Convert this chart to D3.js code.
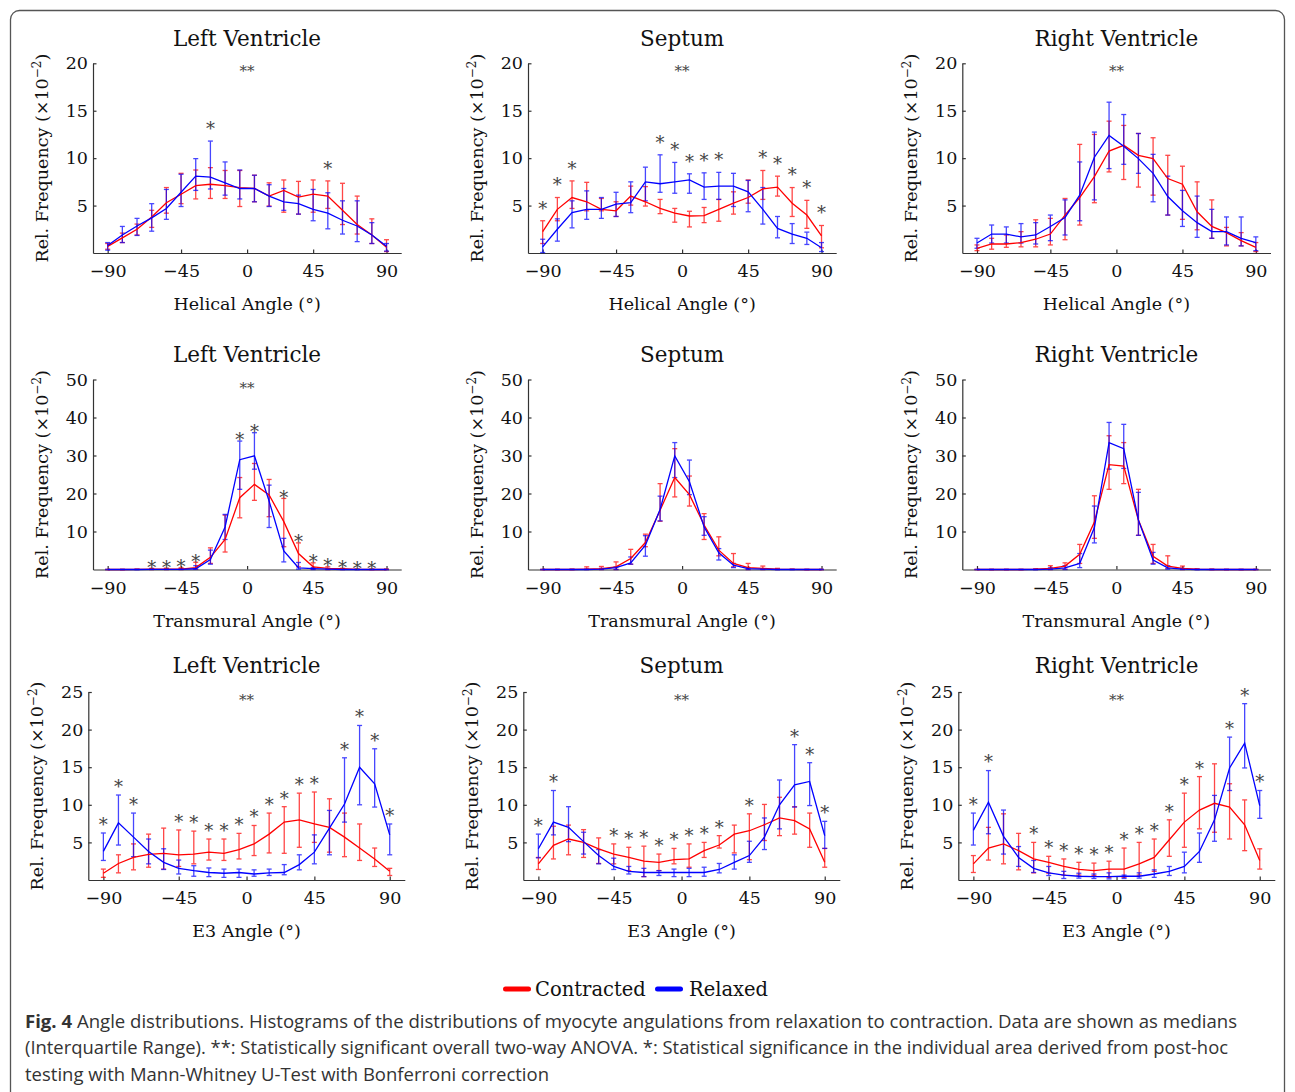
<!DOCTYPE html>
<html><head><meta charset="utf-8">
<script src="https://cdn.jsdelivr.net/npm/d3@7"></script>
<style>body{margin:0;background:#fff} svg{display:block}</style>
</head><body><svg id="c" width="1295" height="1092"></svg>
<script>
// ---------- data ----------
const binIndex = d3.range(1, 21);              // 20 angle bins
const angleTickPos = [1, 6, 10.5, 15, 20];
const angleTickLabels = ["\u221290", "\u221245", "0", "45", "90"];
const yTicksHelical = [5, 10, 15, 20];
const yTicksTrans = [10, 20, 30, 40, 50];
const yTicksE3 = [5, 10, 15, 20, 25];
const rowTitles = ["Left Ventricle", "Septum", "Right Ventricle"];
const xLabels = ["Helical Angle (\u00b0)", "Transmural Angle (\u00b0)", "E3 Angle (\u00b0)"];
const seriesNames = ["Contracted", "Relaxed"];

// Helical - Left Ventricle
const lvHelConMed = [0.7,1.6,2.5,3.8,5.3,6.2,7.1,7.25,7.1,6.9,6.8,6.0,6.6,5.9,6.2,6.0,4.5,3.0,1.9,0.6];
const lvHelConLo  = [0.4,1.1,1.9,2.7,4.2,5.2,5.7,5.75,5.75,4.9,5.4,4.95,4.3,4.1,4.3,4.7,3.0,2.0,1.0,0.15];
const lvHelConHi  = [1.0,2.1,3.05,4.5,6.9,8.4,8.75,9.0,8.7,8.7,8.2,7.4,7.7,7.55,7.7,7.6,7.35,6.0,3.6,1.4];
const lvHelRelMed = [0.8,1.9,2.85,3.7,4.7,6.4,8.1,8.0,7.4,6.8,6.8,6.0,5.4,5.2,4.6,4.2,3.45,2.85,1.9,0.7];
const lvHelRelLo  = [0.3,1.1,1.85,2.3,3.55,4.9,6.6,6.75,6.1,5.7,5.4,4.9,4.5,4.1,3.4,2.55,2.0,1.2,1.0,0.2];
const lvHelRelHi  = [1.1,2.8,3.65,5.2,6.7,8.3,9.95,11.8,9.6,8.75,8.2,7.2,6.8,6.1,6.7,6.35,5.5,5.5,3.2,1.0];
const lvHelSig = [8, 16];
// Helical - Septum
const sepHelConMed = [2.25,4.6,5.85,5.4,4.6,4.45,6.0,5.4,4.7,4.2,3.9,3.95,4.6,5.25,5.85,6.75,6.95,5.25,4.0,1.8];
const sepHelConLo  = [1.0,3.4,4.7,4.45,4.45,3.85,5.05,4.95,4.15,3.25,2.75,3.2,3.35,4.1,5.25,5.65,6.0,3.85,2.6,0.55];
const sepHelConHi  = [3.4,5.85,7.6,7.45,5.75,5.4,7.05,7.0,5.65,4.7,4.4,4.8,5.65,6.45,7.7,8.7,8.1,6.9,5.55,2.9];
const sepHelRelMed = [0.65,2.5,4.25,4.6,4.6,5.15,5.3,7.5,7.3,7.5,7.7,6.95,7.05,7.05,6.45,4.6,2.6,2.0,1.55,0.55];
const sepHelRelLo  = [0.05,1.25,2.65,3.55,3.65,3.85,4.25,5.5,6.4,6.3,6.3,5.65,5.65,4.9,4.35,3.05,1.6,1.0,0.9,0.15];
const sepHelRelHi  = [1.45,3.6,5.5,6.55,5.85,6.4,7.5,9.05,10.35,9.55,8.35,8.45,8.5,8.4,7.65,6.9,3.85,3.1,2.2,1.1];
const sepHelSig = [1,2,3,9,10,11,12,13,16,17,18,19,20];
// Helical - Right Ventricle
const rvHelConMed = [0.5,0.95,0.95,1.1,1.45,2.0,4.0,5.85,8.05,10.75,11.35,10.3,9.95,7.85,7.25,4.35,2.8,2.15,1.3,0.6];
const rvHelConLo  = [0.25,0.4,0.6,0.65,0.65,0.85,1.4,2.95,5.3,8.55,7.75,6.95,6.1,4.0,3.55,2.45,1.55,0.75,0.75,0.15];
const rvHelConHi  = [0.85,1.55,1.9,2.25,3.5,3.65,5.75,11.45,12.5,13.9,13.45,12.6,12.15,10.3,9.15,7.5,5.6,2.7,2.15,1.1];
const rvHelRelMed = [1.05,2.0,2.0,1.7,1.9,2.8,3.75,6.1,10.1,12.4,11.25,9.95,8.4,5.95,4.45,3.2,2.25,2.25,1.55,1.1];
const rvHelRelLo  = [0.5,1.05,1.05,1.05,0.95,1.3,1.9,3.4,5.6,8.9,9.35,8.4,5.4,4.0,2.8,1.65,1.55,0.85,0.75,0.25];
const rvHelRelHi  = [1.55,2.95,2.75,3.1,3.2,4.0,5.6,9.6,12.75,15.9,14.6,12.6,10.4,8.1,6.6,6.0,4.6,3.8,3.8,1.7];
const rvHelSig = [];
// Transmural - Left Ventricle
const lvTraConMed = [0,0,0.05,0.1,0.1,0.1,0.5,3.2,7.9,18.9,22.4,19.6,12.6,4.2,0.7,0.3,0.2,0.05,0,0];
const lvTraConLo  = [0,0,0,0,0,0,0.1,1.6,4.6,13.6,18.2,13.9,6.0,0.7,0.1,0,0,0,0,0];
const lvTraConHi  = [0,0,0.1,0.3,0.35,0.45,1.9,5.7,14.3,24.2,27.9,23.7,18.7,7.0,1.75,0.7,0.3,0.1,0.1,0.1];
const lvTraRelMed = [0,0,0,0.05,0.05,0.05,0.2,2.6,11.2,28.9,29.9,18.0,4.9,0.45,0.25,0.1,0,0,0,0];
const lvTraRelLo  = [0,0,0,0,0,0,0.1,1.4,7.9,21.1,26.4,11.05,2.0,0.1,0,0,0,0,0,0];
const lvTraRelHi  = [0,0,0,0.1,0.1,0.2,1.0,5.1,14.5,33.8,36.0,22.2,8.2,1.85,0.5,0.25,0.1,0,0,0];
const lvTraSig = [4,5,6,7,10,11,13,14,15,16,17,18,19];
// Transmural - Septum
const sepTraConMed = [0,0,0,0.1,0.2,0.7,2.9,7.1,15.6,24.2,19.7,11.7,5.1,1.6,0.5,0.3,0.1,0.05,0,0];
const sepTraConLo  = [0,0,0,0,0,0,1.4,6.0,12.7,19.1,16.7,7.9,3.6,0.7,0,0,0,0,0,0];
const sepTraConHi  = [0,0,0.1,0.7,0.8,2.0,5.3,9.3,22.6,31.8,24.6,14.7,8.6,4.2,1.6,0.9,0.3,0.1,0,0];
const sepTraRelMed = [0,0,0,0,0.1,0.5,1.75,6.4,15.8,29.9,23.1,11.2,4.4,1.15,0.25,0.1,0,0,0,0];
const sepTraRelLo  = [0,0,0,0,0,0,1.4,3.5,12.8,24.2,19.7,9.0,2.5,0.5,0,0,0,0,0,0];
const sepTraRelHi  = [0,0,0,0.1,0.3,0.7,3.3,8.9,19.3,33.4,28.8,13.9,5.5,1.6,0.45,0.2,0,0,0,0];
const sepTraSig = [];
// Transmural - Right Ventricle
const rvTraConMed = [0,0,0,0,0.1,0.3,0.9,4.0,12.5,27.6,27.2,13.0,3.5,0.9,0.3,0.1,0,0,0,0];
const rvTraConLo  = [0,0,0,0,0,0,0.1,1.6,8.2,21.1,22.6,9.0,1.6,0.3,0,0,0,0,0,0];
const rvTraConHi  = [0,0,0,0,0.2,1.0,1.75,6.6,19.4,35.2,33.4,21.1,6.6,3.6,0.9,0.2,0.1,0,0,0];
const rvTraRelMed = [0,0,0,0,0,0.1,0.45,1.6,11.05,33.4,31.8,13.0,2.5,0.45,0.1,0,0,0,0,0];
const rvTraRelLo  = [0,0,0,0,0,0,0,0.5,7.0,26.4,26.6,9.0,1.4,0.1,0,0,0,0,0,0];
const rvTraRelHi  = [0,0,0,0,0,0.45,1.0,4.2,16.7,38.7,38.2,20.3,4.5,1.0,0.3,0,0,0,0,0];
const rvTraSig = [];
// E3 - Left Ventricle
const lvE3ConMed = [0.9,2.2,3.0,3.4,3.55,3.35,3.45,3.7,3.55,4.05,4.8,6.1,7.7,8.0,7.45,7.0,5.7,4.25,2.8,1.15];
const lvE3ConLo  = [0.35,0.95,1.35,1.7,1.45,1.8,2.15,2.65,2.6,2.8,3.25,3.6,3.55,4.35,5.0,3.7,3.1,2.6,1.8,0.6];
const lvE3ConHi  = [1.45,3.35,4.8,6.1,6.9,6.65,6.5,5.45,5.45,6.2,7.25,8.9,9.75,11.55,11.7,10.8,8.9,7.45,4.25,1.55];
const lvE3RelMed = [3.8,7.6,5.7,3.8,2.35,1.55,1.25,1.0,0.9,1.0,0.8,0.95,1.0,2.05,3.7,6.9,10.1,15.0,12.8,6.0];
const lvE3RelLo  = [2.6,4.65,3.1,2.15,1.4,0.8,0.5,0.45,0.35,0.35,0.5,0.6,0.7,1.35,2.15,3.35,7.7,10.0,9.7,3.35];
const lvE3RelHi  = [6.25,11.3,8.9,5.45,4.15,2.65,1.9,1.6,1.45,1.45,1.35,1.45,2.05,3.35,6.0,9.25,16.25,20.55,17.45,7.45];
const lvE3Sig = [1,2,3,6,7,8,9,10,11,12,13,14,15,17,18,19,20];
// E3 - Septum
const sepE3ConMed = [2.15,4.6,5.45,5.0,4.15,3.45,3.0,2.5,2.35,2.7,2.8,3.9,4.65,6.1,6.55,7.35,8.25,7.9,6.8,2.35];
const sepE3ConLo  = [1.4,2.8,3.35,3.0,2.2,2.15,1.25,0.45,1.25,2.15,1.7,3.0,4.25,3.6,2.7,5.25,5.9,6.1,4.35,1.7];
const sepE3ConHi  = [3.0,7.15,7.3,6.7,5.6,4.8,4.35,4.5,3.45,4.2,4.8,5.0,5.9,7.3,8.8,10.05,11.0,9.75,8.9,4.2];
const sepE3RelMed = [4.15,7.7,7.0,5.1,3.25,1.8,1.15,1.0,1.0,1.0,1.0,1.0,1.4,2.35,3.25,5.7,10.0,12.65,13.1,5.9];
const sepE3RelLo  = [2.95,6.0,5.1,3.45,2.15,1.4,0.8,0.45,0.6,0.45,0.45,0.5,0.95,1.45,2.35,4.05,6.8,9.7,9.9,4.2];
const sepE3RelHi  = [6.1,11.9,9.75,6.35,4.05,2.9,1.8,1.55,1.25,1.45,1.55,1.7,2.2,3.35,5.15,8.25,13.3,18.0,15.6,7.8];
const sepE3Sig = [1,2,6,7,8,9,10,11,12,13,15,18,19,20];
// E3 - Right Ventricle
const rvE3ConMed = [2.15,4.25,4.8,3.9,2.8,2.35,1.8,1.4,1.25,1.45,1.45,2.15,3.0,5.35,7.7,9.3,10.2,9.7,7.35,2.6];
const rvE3ConLo  = [1.0,2.65,2.15,1.35,0.95,0.9,0.65,0.65,0.6,0.35,0.35,0.65,1.15,3.15,4.35,6.8,6.35,5.45,3.9,1.45];
const rvE3ConHi  = [3.25,7.0,8.8,6.2,5.0,3.15,2.8,2.35,2.25,2.5,4.25,5.0,5.45,8.0,11.55,13.75,15.45,12.8,10.65,4.15];
const rvE3RelMed = [6.6,10.35,5.8,3.0,1.55,0.95,0.65,0.5,0.45,0.45,0.5,0.5,0.8,1.15,1.8,3.8,8.0,14.9,18.2,9.9];
const rvE3RelLo  = [4.65,6.15,3.45,1.8,1.0,0.6,0.2,0.25,0.2,0.15,0.2,0.25,0.35,0.6,0.95,2.35,5.15,11.9,14.9,8.2];
const rvE3RelHi  = [8.9,14.55,9.3,4.45,2.6,1.8,1.15,0.9,0.8,0.95,0.65,0.95,1.35,1.8,3.7,6.25,11.25,19.0,23.45,11.9];
const rvE3Sig = [1,2,5,6,7,8,9,10,11,12,13,14,15,16,18,19,20];

const anovaFlags = [[true,true,true],[true,false,false],[true,true,true]];

const captionLines = [
  ["Fig. 4", " Angle distributions. Histograms of the distributions of myocyte angulations from relaxation to contraction. Data are shown as medians"],
  ["", "(Interquartile Range). **: Statistically significant overall two-way ANOVA. *: Statistical significance in the individual area derived from post-hoc"],
  ["", "testing with Mann-Whitney U-Test with Bonferroni correction"]
];
const captionWidths = [1212, 1203, 524];

// ---------- panel table built from arrays ----------
const panelData = [
  [[lvHelConMed,lvHelConLo,lvHelConHi,lvHelRelMed,lvHelRelLo,lvHelRelHi,lvHelSig],
   [sepHelConMed,sepHelConLo,sepHelConHi,sepHelRelMed,sepHelRelLo,sepHelRelHi,sepHelSig],
   [rvHelConMed,rvHelConLo,rvHelConHi,rvHelRelMed,rvHelRelLo,rvHelRelHi,rvHelSig]],
  [[lvTraConMed,lvTraConLo,lvTraConHi,lvTraRelMed,lvTraRelLo,lvTraRelHi,lvTraSig],
   [sepTraConMed,sepTraConLo,sepTraConHi,sepTraRelMed,sepTraRelLo,sepTraRelHi,sepTraSig],
   [rvTraConMed,rvTraConLo,rvTraConHi,rvTraRelMed,rvTraRelLo,rvTraRelHi,rvTraSig]],
  [[lvE3ConMed,lvE3ConLo,lvE3ConHi,lvE3RelMed,lvE3RelLo,lvE3RelHi,lvE3Sig],
   [sepE3ConMed,sepE3ConLo,sepE3ConHi,sepE3RelMed,sepE3RelLo,sepE3RelHi,sepE3Sig],
   [rvE3ConMed,rvE3ConLo,rvE3ConHi,rvE3RelMed,rvE3RelLo,rvE3RelHi,rvE3Sig]]
];

// ---------- layout ----------
const SERIF = "'DejaVu Serif', serif";
const RED = "#ff0000", BLUE = "#0000ff", AX = "#333";
const rows = [
  {top:63.3, bottom:253, ymax:20, ticks:yTicksHelical, lefts:[93,528,962.3], span:308.2, titleY:46, xlabY:310, starOff:16},
  {top:379.5, bottom:569.5, ymax:50, ticks:yTicksTrans, lefts:[93,528,962.3], span:308.2, titleY:362, xlabY:627, starOff:4.5},
  {top:692, bottom:880, ymax:25, ticks:yTicksE3, lefts:[88.3,523.3,958.3], span:316.5, titleY:673, xlabY:937, starOff:12}
];

const svg = d3.select("#c");
svg.append("rect").attr("x",10.5).attr("y",10.5).attr("width",1274).attr("height",1120)
   .attr("rx",9).attr("fill","none").attr("stroke","#555").attr("stroke-width",1.3);

rows.forEach((R, r) => {
  R.lefts.forEach((L, c) => {
    const [cMed,cLo,cHi,rMed,rLo,rHi,sig] = panelData[r][c];
    const g = svg.append("g");
    const x = d3.scaleLinear().domain([0,21]).range([L, L + R.span]);
    const y = d3.scaleLinear().domain([0,R.ymax]).range([R.bottom, R.top]);

    const xa = g.append("g").attr("transform",`translate(0,${R.bottom})`)
      .call(d3.axisBottom(x).tickValues(angleTickPos).tickFormat((d,i)=>angleTickLabels[i])
        .tickSizeInner(-3.5).tickSizeOuter(0).tickPadding(12));
    const ya = g.append("g").attr("transform",`translate(${L},0)`)
      .call(d3.axisLeft(y).tickValues(R.ticks).tickSizeInner(-3.5).tickSizeOuter(0).tickPadding(5));
    [xa, ya].forEach(a => {
      a.attr("font-family", SERIF).attr("font-size", 17.5);
      a.selectAll("path,line").attr("stroke", AX).attr("stroke-width", 1.2);
      a.selectAll("text").attr("fill", "#111");
    });

    // titles / labels
    g.append("text").attr("x", x(10.5)).attr("y", R.titleY).attr("text-anchor","middle")
      .attr("font-family",SERIF).attr("font-size",21.5).attr("fill","#111").text(rowTitles[c]);
    g.append("text").attr("x", x(10.5)).attr("y", R.xlabY).attr("text-anchor","middle")
      .attr("font-family",SERIF).attr("font-size",17.5).attr("fill","#111").text(xLabels[r]);
    const yl = g.append("text").attr("transform",`translate(${L-45},${(R.top+R.bottom)/2}) rotate(-90)`)
      .attr("text-anchor","middle").attr("font-family",SERIF).attr("font-size",17.5).attr("fill","#111");
    yl.append("tspan").text("Rel. Frequency (\u00d710");
    yl.append("tspan").attr("font-size",12).attr("dy","-0.55em").text("\u22122");
    yl.append("tspan").attr("dy","0.38em").text(")");

    // series
    const series = [[cMed,cLo,cHi,RED],[rMed,rLo,rHi,BLUE]];
    series.forEach(([med,lo,hi,col]) => {
      const eb = g.append("g").attr("stroke",col).attr("stroke-width",1.3).attr("opacity",0.72);
      const items = eb.selectAll("g").data(binIndex).join("g");
      items.append("line").attr("x1",d=>x(d)).attr("x2",d=>x(d))
        .attr("y1",(d,i)=>y(lo[i])).attr("y2",(d,i)=>y(hi[i]));
      items.append("line").attr("x1",d=>x(d)-2.5).attr("x2",d=>x(d)+2.5)
        .attr("y1",(d,i)=>y(lo[i])).attr("y2",(d,i)=>y(lo[i]));
      items.append("line").attr("x1",d=>x(d)-2.5).attr("x2",d=>x(d)+2.5)
        .attr("y1",(d,i)=>y(hi[i])).attr("y2",(d,i)=>y(hi[i]));
    });
    series.forEach(([med,lo,hi,col]) => {
      g.append("path").datum(med).attr("fill","none").attr("stroke",col).attr("stroke-width",1.3)
        .attr("d", d3.line().x((d,i)=>x(binIndex[i])).y(d=>y(d)));
    });

    // significance
    const fs = 18;
    g.selectAll("text.sig").data(sig).join("text").attr("class","sig")
      .attr("x", s => x(s)).attr("y", s => y(Math.max(cHi[s-1], rHi[s-1])) - R.starOff + 0.55*fs)
      .attr("text-anchor","middle").attr("font-family",SERIF).attr("font-size",fs).attr("fill","#444").text("*");
    if (anovaFlags[r][c]) {
      g.append("text").attr("x", x(10.5)).attr("y", R.top + 5.5 + 0.5*15).attr("text-anchor","middle")
        .attr("font-family",SERIF).attr("font-size",15).attr("fill","#444").text("**");
    }
  });
});

// legend
const leg = svg.append("g");
const legItems = [{x:503, tx:535, col:RED, name:seriesNames[0]}, {x:655, tx:689, col:BLUE, name:seriesNames[1]}];
legItems.forEach(it => {
  leg.append("rect").attr("x",it.x).attr("y",986.5).attr("width",28).attr("height",5).attr("rx",2.5).attr("fill",it.col);
  leg.append("text").attr("x",it.tx).attr("y",995.5).attr("font-family",SERIF).attr("font-size",19.5).attr("fill","#111").text(it.name);
});

// caption
const capY = [1027.5, 1054, 1080.5];
captionLines.forEach((ln, i) => {
  const t = svg.append("text").attr("x",25).attr("y",capY[i]).attr("font-family","'Open Sans', sans-serif")
    .attr("font-size",18.2).attr("fill","#333")
    .attr("textLength", captionWidths[i]).attr("lengthAdjust","spacingAndGlyphs");
  if (ln[0]) t.append("tspan").attr("font-weight","bold").text(ln[0]);
  t.append("tspan").text(ln[1]);
});
</script></body></html>
